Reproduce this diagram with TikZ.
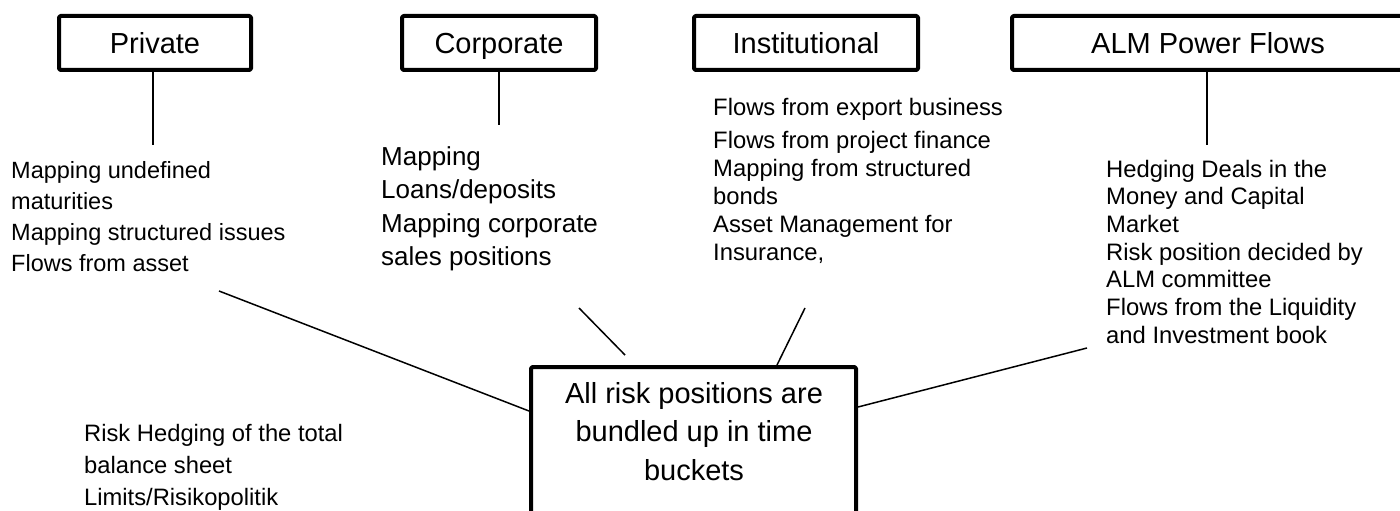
\documentclass[tikz,border=0pt]{standalone}
\usepackage{fontspec}
\setmainfont{Liberation Sans}
\begin{document}
\begin{tikzpicture}[x=1pt,y=-1pt,
  segbox/.style={draw,line width=4pt,line join=round,rounded corners=1.5pt,inner sep=0pt,minimum height=54pt,
    font=\fontsize{29}{35}\selectfont,text height=20.8pt,text depth=0pt},
  hubbox/.style={draw,line width=4pt,line join=round,rounded corners=1.5pt,inner sep=0pt,minimum width=325pt,minimum height=300pt},
  link/.style={line width=1.5pt},
  itemlist/.style={anchor=north west,inner sep=0pt,align=left}
]
\useasboundingbox (0,0) rectangle (1400,511);
\clip (0,0) rectangle (1400,511);

% business segments
\node[segbox,minimum width=192pt] (priv) at (155,43) {Private};
\node[segbox,minimum width=194pt] (corp) at (499,43) {Corporate};
\node[segbox,minimum width=224pt] (inst) at (806,43) {Institutional};
\node[segbox,minimum width=392pt] (alm)  at (1208,43) {ALM Power Flows};

% central time-bucket box
\node[hubbox,anchor=north] (bucket) at (693.5,365) {};
\node[anchor=north,inner sep=0pt,align=center,font=\fontsize{29}{38.5}\selectfont]
  (bucketlabel) at (694,381.8) {All risk positions are\\bundled up in time\\buckets};

% item lists
\node[itemlist,font=\fontsize{23.5}{31.3}\selectfont] (privlist) at (11,160.8)
  {Mapping undefined\\maturities\\Mapping structured issues\\Flows from asset};
\node[itemlist,font=\fontsize{26}{33.5}\selectfont] (corplist) at (381,146)
  {Mapping\\Loans/deposits\\Mapping corporate\\sales positions};
\node[itemlist,font=\fontsize{23.8}{28}\selectfont] (instlist) at (713,97.6)
  {Flows from export business\\[5pt]Flows from project finance\\Mapping from structured\\bonds\\Asset Management for\\Insurance,};
\node[itemlist,font=\fontsize{23.8}{27.7}\selectfont] (almlist) at (1106,159.6)
  {Hedging Deals in the\\Money and Capital\\Market\\Risk position decided by\\ALM committee\\Flows from the Liquidity\\and Investment book};
\node[itemlist,font=\fontsize{23.75}{32}\selectfont] (hedge) at (84,423.7)
  {Risk Hedging of the total\\balance sheet\\Limits/Risikopolitik};

% connector ends
\coordinate (privEnd) at (153,145);
\coordinate (corpEnd) at (499,125);
\coordinate (almEnd)  at (1207,145);
\coordinate (privFoot) at (219,291);
\coordinate (corpFoot) at (579,308);
\coordinate (instFoot) at (805,308);
\coordinate (almFoot)  at (1087,348);

% vertical stems
\draw[link] (privEnd |- priv.south) -- (privEnd);
\draw[link] (corpEnd |- corp.south) -- (corpEnd);
\draw[link] (almEnd |- alm.south) -- (almEnd);

% diagonals into the central box
\draw[link] (privFoot) -- ([yshift=-46pt]bucket.north west);
\draw[link] (corpFoot) -- ([xshift=-68.5pt,yshift=10pt]bucket.north);
\draw[link] (instFoot) -- ([xshift=83.5pt]bucket.north);
\draw[link] (almFoot) -- ([yshift=-42pt]bucket.north east);
\end{tikzpicture}
\end{document}
